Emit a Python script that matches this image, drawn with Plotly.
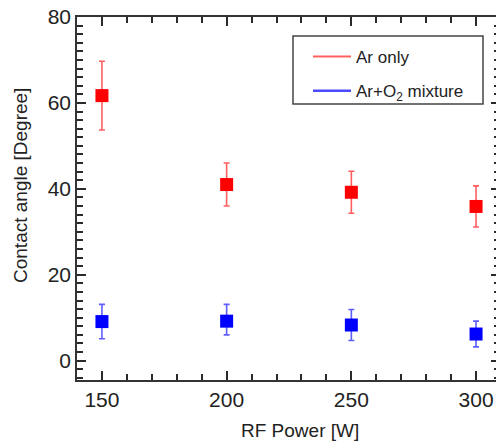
import plotly.graph_objects as go

power = [150, 200, 250, 300]
ar_only = [61.7, 41.0, 39.2, 35.9]
ar_only_err = [8.0, 5.0, 4.9, 4.8]
ar_o2 = [9.1, 9.2, 8.3, 6.2]
ar_o2_err_plus = [4.0, 3.9, 3.6, 3.0]
ar_o2_err_minus = [4.0, 3.2, 3.6, 3.0]

x_range = [140, 308]
y_range = [-4.5, 80]

FONT = "Arial, Liberation Sans, sans-serif"
AX = "#333333"
TK = "#2a2a2a"
W, H = 496, 443
ML, MR, MT, MB = 77, 0, 17, 63
PW, PH = W - ML - MR, H - MT - MB


def px(x):
    return (x - ML) / PW


def py(y):
    return (H - MB - y) / PH


fig = go.Figure()

fig.add_trace(go.Scatter(
    x=power, y=ar_only, mode="markers", showlegend=False,
    marker=dict(symbol="square", size=13, color="#ff0000"),
    error_y=dict(type="data", array=ar_only_err, color="rgba(255,40,40,0.75)",
                 thickness=1.6, width=3),
))
fig.add_trace(go.Scatter(
    x=power, y=ar_o2, mode="markers", showlegend=False,
    marker=dict(symbol="square", size=13, color="#0000ff"),
    error_y=dict(type="data", array=ar_o2_err_plus, arrayminus=ar_o2_err_minus,
                 symmetric=False, color="rgba(40,40,255,0.75)", thickness=1.6, width=3),
))
# invisible trace so that the right-hand tick axis gets drawn
fig.add_trace(go.Scatter(x=[power[0]], y=[ar_o2[0]], xaxis="x", yaxis="y2", mode="markers",
                         marker=dict(opacity=0), showlegend=False, hoverinfo="skip"))
# legend entries (lines only)
fig.add_trace(go.Scatter(x=[None], y=[None], mode="lines", name="Ar only",
                         legendgroup="a", line=dict(color="#ff6060", width=2)))
fig.add_trace(go.Scatter(x=[None], y=[None], mode="lines", name="Ar+O<sub>2</sub> mixture",
                         legendgroup="b", line=dict(color="#4a4aff", width=2.5)))

common = dict(showgrid=False, zeroline=False)

fig.update_layout(
    width=W, height=H,
    margin=dict(l=ML, r=MR, t=MT, b=MB),
    plot_bgcolor="rgba(0,0,0,0)", paper_bgcolor="white",
    font=dict(family=FONT, color="#222222"),
    showlegend=True,
    legend=dict(x=px(308), y=py(39), xanchor="left", yanchor="top",
                borderwidth=0, bgcolor="rgba(0,0,0,0)",
                itemwidth=38,
                font=dict(size=17, family=FONT, color="#222222"),
                traceorder="grouped", tracegroupgap=9),
    shapes=[dict(type="rect", xref="paper", yref="paper",
                 x0=px(293), x1=px(483), y0=py(104), y1=py(36),
                 line=dict(color="#444444", width=1.5), fillcolor="rgba(0,0,0,0)")],
    xaxis=dict(range=x_range, tickmode="linear", tick0=150, dtick=50, **common,
               showline=True, linecolor=AX, linewidth=1.5, mirror="ticks",
               ticks="inside", ticklen=9, tickwidth=1.8, tickcolor=TK,
               tickfont=dict(size=21, family=FONT, color="#222222"),
               minor=dict(tick0=150, dtick=10, ticks="inside",
                          ticklen=6, tickwidth=1.6, tickcolor=TK)),
    yaxis=dict(range=y_range, tickmode="linear", tick0=0, dtick=20, **common,
               showline=True, linecolor=AX, linewidth=1.5, mirror=False,
               ticks="inside", ticklen=9, tickwidth=1.8, tickcolor=TK,
               tickfont=dict(size=21, family=FONT, color="#222222"),
               minor=dict(tick0=0, dtick=2, ticks="inside",
                          ticklen=6, tickwidth=1.6, tickcolor=TK)),
    yaxis2=dict(range=y_range, overlaying="y", anchor="x", side="right",
                showline=False, showticklabels=False, **common,
                tickmode="linear", tick0=0, dtick=20, ticks="inside",
                ticklen=5, tickwidth=1.8, tickcolor=TK,
                minor=dict(tick0=0, dtick=2, ticks="inside",
                           ticklen=2, tickwidth=1.8, tickcolor=TK)),
    annotations=[
        dict(text="Contact angle [Degree]", xref="paper", yref="paper",
             x=px(20), y=py(186), textangle=-90, showarrow=False,
             xanchor="center", yanchor="middle",
             font=dict(size=19, family=FONT, color="#222222")),
        dict(text="RF Power [W]", xref="paper", yref="paper",
             x=px(300), y=py(430), showarrow=False, xanchor="center", yanchor="middle",
             font=dict(size=19, family=FONT, color="#222222")),
    ],
)

fig.write_html("out.html")
